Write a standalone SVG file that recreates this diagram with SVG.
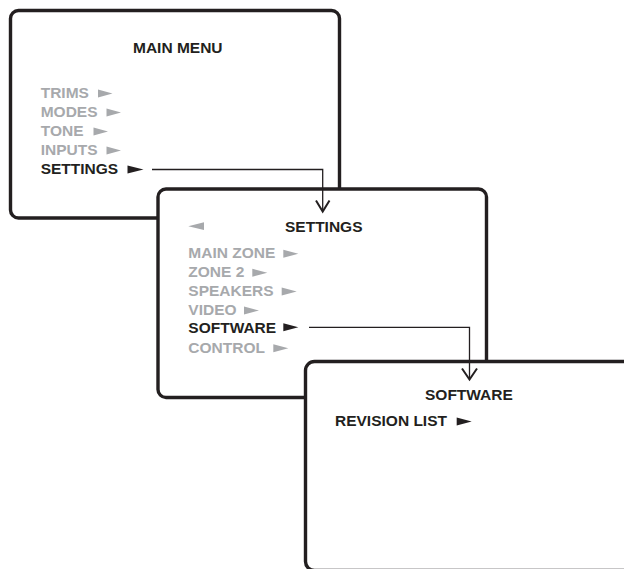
<svg xmlns="http://www.w3.org/2000/svg" width="624" height="569" viewBox="0 0 624 569">
<style>
.box{fill:#fff;stroke:#231f20;stroke-width:3.4}
.t{font-family:"Liberation Sans",Arial,sans-serif;font-weight:bold;font-size:15.5px}
.k{fill:#231f20}
.g{fill:#a7a9ac}
.tk{fill:#231f20}
.tg{fill:#a7a9ac}
.conn{fill:none;stroke:#231f20;stroke-width:1.3}
.ah{fill:none;stroke:#231f20;stroke-width:2}
</style>
<rect width="624" height="569" fill="#fff"/>
<g id="main-menu">
<rect class="box" x="10.5" y="10.5" width="329" height="207.5" rx="8"/>
<text class="t k" x="133" y="53.3">MAIN MENU</text>
<text class="t g" x="40.7" y="98">TRIMS</text>
<polygon class="tg" points="98,89.5 112.5,93.5 98,97.5"/>
<text class="t g" x="40.7" y="117">MODES</text>
<polygon class="tg" points="106.5,108.5 121,112.5 106.5,116.5"/>
<text class="t g" x="40.7" y="136">TONE</text>
<polygon class="tg" points="93.5,127.5 108,131.5 93.5,135.5"/>
<text class="t g" x="40.7" y="155">INPUTS</text>
<polygon class="tg" points="106.5,146.5 121,150.5 106.5,154.5"/>
<text class="t k" x="40.7" y="174">SETTINGS</text>
<polygon class="tk" points="127.5,165.5 143.5,169.5 127.5,173.5"/>
</g>
<g id="settings">
<rect class="box" x="158" y="189" width="328.5" height="208.5" rx="8"/>
<polygon class="tg" points="204,222.3 188.3,226.2 204,230"/>
<text class="t k" x="285" y="231.7">SETTINGS</text>
<text class="t g" x="188.3" y="258.3">MAIN ZONE</text>
<polygon class="tg" points="283.3,249.8 298.3,253.8 283.3,257.8"/>
<text class="t g" x="188.3" y="277.3">ZONE 2</text>
<polygon class="tg" points="252.3,268.8 267.3,272.8 252.3,276.8"/>
<text class="t g" x="188.3" y="296">SPEAKERS</text>
<polygon class="tg" points="281.7,287.5 296.7,291.5 281.7,295.5"/>
<text class="t g" x="188.3" y="315">VIDEO</text>
<polygon class="tg" points="244,306.5 259,310.5 244,314.5"/>
<text class="t k" x="188.3" y="333.3">SOFTWARE</text>
<polygon class="tk" points="283.3,323.3 298.3,327.3 283.3,331.3"/>
<text class="t g" x="188.3" y="352.7">CONTROL</text>
<polygon class="tg" points="273.3,344.2 288.3,348.2 273.3,352.2"/>
</g>
<g id="software">
<rect class="box" x="305.5" y="361.5" width="340" height="209" rx="9"/>
<text class="t k" x="425" y="400">SOFTWARE</text>
<text class="t k" x="335" y="426">REVISION LIST</text>
<polygon class="tk" points="456.7,417.5 471.7,421.5 456.7,425.5"/>
</g>
<g id="connectors">
<polyline class="conn" points="152,169.5 322.7,169.5 322.7,210.5"/>
<polyline class="ah" points="316,200.5 322.7,211.5 329.5,200.5"/>
<polyline class="conn" points="309,327.3 469.5,327.3 469.5,378.5"/>
<polyline class="ah" points="462,368.5 469.5,379.5 477,368.5"/>
</g>
</svg>
